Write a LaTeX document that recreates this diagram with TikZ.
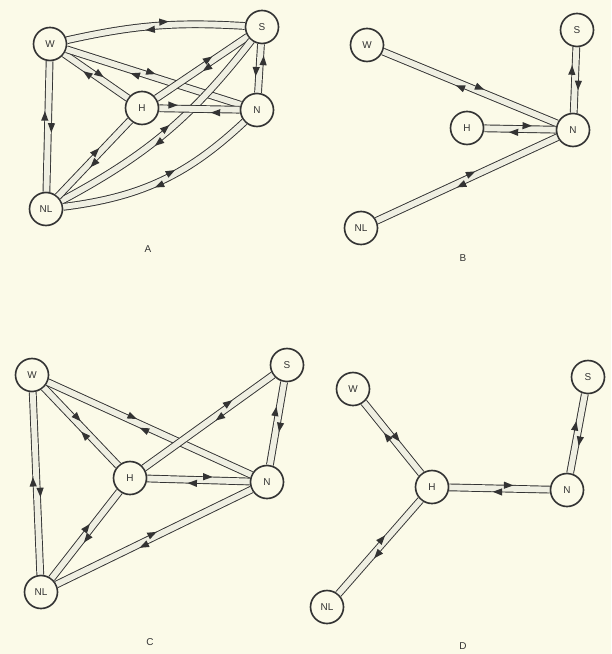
\documentclass[tikz,border=0pt]{standalone}
\usepackage{fontspec}
\setsansfont{Liberation Sans}
\usetikzlibrary{decorations.markings}

\definecolor{paper}{HTML}{FBFAE8}
\definecolor{ink}{HTML}{333333}
\definecolor{bandfill}{HTML}{EFEFE2}

\tikzset{
  place/.style={circle, draw=ink, line width=1.4pt, fill=paper, minimum size=0.99cm,
    inner sep=0pt, font=\sffamily\fontsize{8.5}{10}\selectfont, text=ink},
  band/.style={draw=ink, line width=0.8pt, double=bandfill, double distance=5pt},
  % forward tip on the left line, backward tip on the right line
  chan/.style 2 args={band,
    postaction={decorate, decoration={markings, mark=at position #1 with
      {\fill[ink] (4pt,2.9pt) -- (-4pt,6pt) -- (-4pt,-0.2pt) -- cycle;}}},
    postaction={decorate, decoration={markings, mark=at position #2 with
      {\fill[ink] (-4pt,-2.9pt) -- (4pt,0.2pt) -- (4pt,-6pt) -- cycle;}}}},
  % the same, sides swapped
  chanr/.style 2 args={band,
    postaction={decorate, decoration={markings, mark=at position #1 with
      {\fill[ink] (4pt,-2.9pt) -- (-4pt,0.2pt) -- (-4pt,-6pt) -- cycle;}}},
    postaction={decorate, decoration={markings, mark=at position #2 with
      {\fill[ink] (-4pt,2.9pt) -- (4pt,6pt) -- (4pt,-0.2pt) -- cycle;}}}},
  caption/.style={font=\sffamily\fontsize{8.5}{10}\selectfont, text=ink}
}

\begin{document}
\begin{tikzpicture}[x=0.03cm, y=-0.03cm]
        \useasboundingbox (0,0) rectangle (611,654);
        \fill[paper] (0,0) rectangle (611,654);

        % Panel A
        \node[place] (aW) at (50,44) {W};
        \node[place] (aS) at (262,27) {S};
        \node[place] (aH) at (142,108) {H};
        \node[place] (aN) at (257,110) {N};
        \node[place] (aNL) at (46,209) {NL};
        \node[caption] (capA) at (148,249) {A};

        \draw[chan={0.55}{0.47}] (aW) to[bend left=8] (aS);
        \draw[chan={0.53}{0.39}] (aW) -- (aH);
        \draw[chan={0.48}{0.40}] (aW) -- (aN);
        \draw[chan={0.51}{0.42}] (aW) -- (aNL);
        \draw[chan={0.47}{0.41}] (aS) -- (aH);
        \draw[chanr={0.57}{0.33}] (aS) -- (aN);
        \draw[chan={0.55}{0.49}] (aS) to[bend left=12] (aNL);
        \draw[chan={0.17}{0.70}] (aH) -- (aN);
        \draw[chan={0.54}{0.44}] (aH) -- (aNL);
        \draw[chan={0.52}{0.44}] (aN) to[bend left=18] (aNL);

        % Panel B
        \node[place] (bW) at (367,45) {W};
        \node[place] (bS) at (577,30) {S};
        \node[place] (bH) at (467,128) {H};
        \node[place] (bN) at (573,130) {N};
        \node[place] (bNL) at (361,228) {NL};
        \node[caption] (capB) at (463,258) {B};

        \draw[chan={0.55}{0.45}] (bW) -- (bN);
        \draw[chan={0.58}{0.35}] (bS) -- (bN);
        \draw[chan={0.60}{0.41}] (bH) -- (bN);
        \draw[chan={0.53}{0.46}] (bNL) -- (bN);

        % Panel C
        \node[place] (cW) at (32,375) {W};
        \node[place] (cS) at (287,365) {S};
        \node[place] (cH) at (130,478) {H};
        \node[place] (cN) at (267,482) {N};
        \node[place] (cNL) at (41,592) {NL};
        \node[caption] (capC) at (150,642) {C};

        \draw[chan={0.42}{0.58}] (cW) -- (cH);
        \draw[chan={0.41}{0.48}] (cW) -- (cN);
        \draw[chan={0.55}{0.49}] (cW) -- (cNL);
        \draw[chan={0.43}{0.33}] (cS) -- (cH);
        \draw[chan={0.54}{0.36}] (cS) -- (cN);
        \draw[chan={0.59}{0.44}] (cH) -- (cN);
        \draw[chan={0.52}{0.44}] (cH) -- (cNL);
        \draw[chan={0.56}{0.50}] (cN) -- (cNL);

        % Panel D
        \node[place] (dW) at (353,389) {W};
        \node[place] (dS) at (588,377) {S};
        \node[place] (dH) at (432,487) {H};
        \node[place] (dN) at (567,490) {N};
        \node[place] (dNL) at (327,607) {NL};
        \node[caption] (capD) at (463,646) {D};

        \draw[chan={0.53}{0.45}] (dW) -- (dH);
        \draw[chan={0.56}{0.44}] (dH) -- (dNL);
        \draw[chan={0.59}{0.48}] (dH) -- (dN);
        \draw[chan={0.59}{0.41}] (dN) -- (dS);
\end{tikzpicture}
\end{document}
